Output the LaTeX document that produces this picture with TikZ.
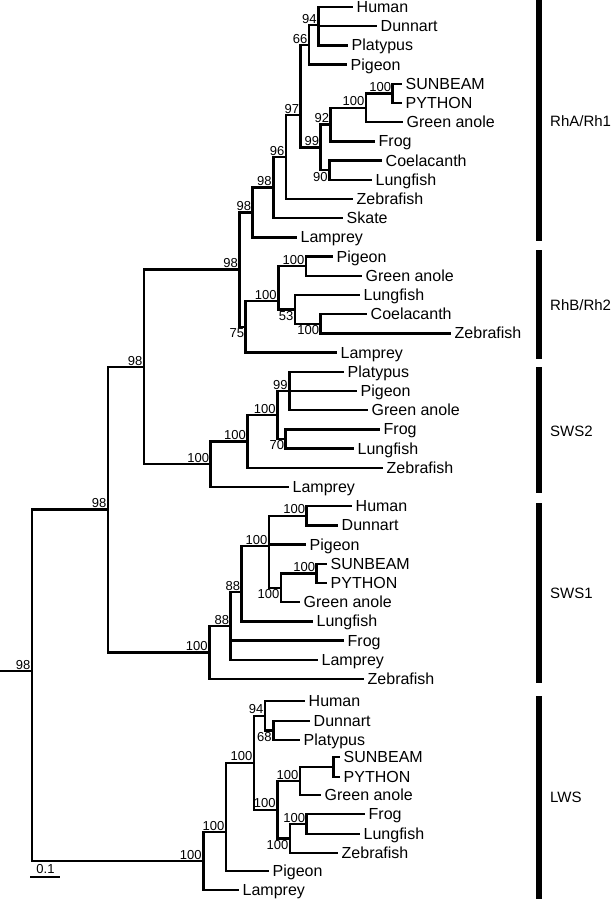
\documentclass[tikz,border=0pt]{standalone}
\usepackage{fontspec}
\setmainfont{Liberation Sans}
\begin{document}
\begin{tikzpicture}[x=1pt,y=-1pt,
  br/.style={line width=2.5pt, line join=miter, line cap=butt},
  tip/.style={anchor=west, font=\fontsize{16}{16}\selectfont, inner xsep=3.5pt, inner ysep=0pt, text height=11pt, text depth=0pt},
  bs/.style={font=\fontsize{13}{13}\selectfont, inner xsep=1.5pt, inner ysep=1.7pt, text height=9pt, text depth=0pt},
  bsa/.style={bs, anchor=south east},
  bsb/.style={bs, anchor=north east},
  clade/.style={anchor=west, font=\fontsize{15}{15}\selectfont, inner sep=0pt},
  cbar/.style={fill=black, draw=none}]
\useasboundingbox (0,0) rectangle (615,899);

% ---------- tips ----------
% RhA/Rh1
\node[tip] (a0) at (353,7) {Human};
\node[tip] (a1) at (377,26.2) {Dunnart};
\node[tip] (a2) at (348,45.4) {Platypus};
\node[tip] (a3) at (347,64.6) {Pigeon};
\node[tip] (a4) at (402,83.8) {SUNBEAM};
\node[tip] (a5) at (402,103) {PYTHON};
\node[tip] (a6) at (403,122.2) {Green anole};
\node[tip] (a7) at (375,141.4) {Frog};
\node[tip] (a8) at (382,160.6) {Coelacanth};
\node[tip] (a9) at (372,179.8) {Lungfish};
\node[tip] (a10) at (353,199) {Zebrafish};
\node[tip] (a11) at (343,218.2) {Skate};
\node[tip] (a12) at (297,237.4) {Lamprey};
% RhB/Rh2
\node[tip] (b0) at (333,256.6) {Pigeon};
\node[tip] (b1) at (362,275.8) {Green anole};
\node[tip] (b2) at (360,295) {Lungfish};
\node[tip] (b3) at (367,314.2) {Coelacanth};
\node[tip] (b4) at (451,333.4) {Zebrafish};
\node[tip] (b5) at (337,352.6) {Lamprey};
% SWS2
\node[tip] (c0) at (344,371.8) {Platypus};
\node[tip] (c1) at (357,391) {Pigeon};
\node[tip] (c2) at (368,410.2) {Green anole};
\node[tip] (c3) at (380,429.4) {Frog};
\node[tip] (c4) at (354,448.6) {Lungfish};
\node[tip] (c5) at (383,467.8) {Zebrafish};
\node[tip] (c6) at (289,487) {Lamprey};
% SWS1
\node[tip] (d0) at (352,506.2) {Human};
\node[tip] (d1) at (338,525.4) {Dunnart};
\node[tip] (d2) at (306,544.6) {Pigeon};
\node[tip] (d3) at (327,563.8) {SUNBEAM};
\node[tip] (d4) at (327,583) {PYTHON};
\node[tip] (d5) at (300,602.2) {Green anole};
\node[tip] (d6) at (313,621.4) {Lungfish};
\node[tip] (d7) at (344,640.6) {Frog};
\node[tip] (d8) at (318,659.8) {Lamprey};
\node[tip] (d9) at (364,679) {Zebrafish};
% LWS
\node[tip] (e0) at (305,701) {Human};
\node[tip] (e1) at (310,721) {Dunnart};
\node[tip] (e2) at (300,740) {Platypus};
\node[tip] (e3) at (340,757) {SUNBEAM};
\node[tip] (e4) at (340,777) {PYTHON};
\node[tip] (e5) at (321,795) {Green anole};
\node[tip] (e6) at (365,814) {Frog};
\node[tip] (e7) at (360,834) {Lungfish};
\node[tip] (e8) at (338,853) {Zebrafish};
\node[tip] (e9) at (269,871) {Pigeon};
\node[tip] (e10) at (239,890) {Lamprey};

% ---------- internal nodes ----------
\coordinate (n94a) at (318.3,25);
\coordinate (n66a) at (309,45);
\coordinate (n100b) at (392.7,93.4);
\coordinate (n100a) at (366,107.8);
\coordinate (n92) at (330.7,124.6);
\coordinate (n90) at (329.3,170.2);
\coordinate (n99a) at (320.7,147.4);
\coordinate (n97) at (300.7,115);
\coordinate (n96) at (286,157);
\coordinate (n98a) at (273.3,187.6);
\coordinate (n98b) at (252.7,212.5);
\coordinate (n100d) at (306,266.2);
\coordinate (n100e) at (320.7,323.8);
\coordinate (n53) at (295,309.4);
\coordinate (n100c) at (278.3,301);
\coordinate (n75) at (245.7,326.8);
\coordinate (n98c) at (239.5,269.6);
\coordinate (n99s) at (289.3,391);
\coordinate (n70) at (285.7,439);
\coordinate (n100f) at (277.3,415);
\coordinate (n100g) at (247.5,441.4);
\coordinate (n100h) at (210.7,464.2);
\coordinate (nB) at (144,366.9);
\coordinate (n100hd) at (306.7,515.8);
\coordinate (n100sp) at (316.7,573.4);
\coordinate (n100low) at (281,588);
\coordinate (n100u) at (269,546);
\coordinate (n88a) at (241.7,592);
\coordinate (n88b) at (230.7,626);
\coordinate (n100s) at (209.3,652.5);
\coordinate (nA) at (108,509.7);
\coordinate (nLsp) at (333.3,767);
\coordinate (nLrep) at (300,781);
\coordinate (nLfl) at (306.7,824);
\coordinate (nLfish) at (290,838.5);
\coordinate (nLr) at (277.3,809.75);
\coordinate (nL68) at (273.3,730.5);
\coordinate (nL94) at (265,715.75);
\coordinate (nL3) at (254,762.75);
\coordinate (nL2) at (226,832);
\coordinate (nL1) at (203.3,861);
\coordinate (root) at (32,671);
\coordinate (stub) at (0,671);

% ---------- branches ----------
\draw[br] (n94a) |- (a0.west);
\draw[br] (n94a) |- (a1.west);
\draw[br] (n94a) |- (a2.west);
\draw[br] (n66a) |- (n94a);
\draw[br] (n66a) |- (a3.west);
\draw[br] (n100b) |- (a4.west);
\draw[br] (n100b) |- (a5.west);
\draw[br] (n100a) |- (n100b);
\draw[br] (n100a) |- (a6.west);
\draw[br] (n92) |- (n100a);
\draw[br] (n92) |- (a7.west);
\draw[br] (n90) |- (a8.west);
\draw[br] (n90) |- (a9.west);
\draw[br] (n99a) |- (n92);
\draw[br] (n99a) |- (n90);
\draw[br] (n97) |- (n66a);
\draw[br] (n97) |- (n99a);
\draw[br] (n96) |- (n97);
\draw[br] (n96) |- (a10.west);
\draw[br] (n98a) |- (n96);
\draw[br] (n98a) |- (a11.west);
\draw[br] (n98b) |- (n98a);
\draw[br] (n98b) |- (a12.west);

\draw[br] (n100d) |- (b0.west);
\draw[br] (n100d) |- (b1.west);
\draw[br] (n100e) |- (b3.west);
\draw[br] (n100e) |- (b4.west);
\draw[br] (n53) |- (b2.west);
\draw[br] (n53) |- (n100e);
\draw[br] (n100c) |- (n100d);
\draw[br] (n100c) |- (n53);
\draw[br] (n75) |- (n100c);
\draw[br] (n75) |- (b5.west);
\draw[br] (n98c) |- (n98b);
\draw[br] (n98c) |- (n75);

\draw[br] (n99s) |- (c0.west);
\draw[br] (n99s) |- (c1.west);
\draw[br] (n99s) |- (c2.west);
\draw[br] (n70) |- (c3.west);
\draw[br] (n70) |- (c4.west);
\draw[br] (n100f) |- (n99s);
\draw[br] (n100f) |- (n70);
\draw[br] (n100g) |- (n100f);
\draw[br] (n100g) |- (c5.west);
\draw[br] (n100h) |- (n100g);
\draw[br] (n100h) |- (c6.west);
\draw[br] (nB) |- (n98c);
\draw[br] (nB) |- (n100h);

\draw[br] (n100hd) |- (d0.west);
\draw[br] (n100hd) |- (d1.west);
\draw[br] (n100sp) |- (d3.west);
\draw[br] (n100sp) |- (d4.west);
\draw[br] (n100low) |- (n100sp);
\draw[br] (n100low) |- (d5.west);
\draw[br] (n100u) |- (n100hd);
\draw[br] (n100u) |- (d2.west);
\draw[br] (n100u) |- (n100low);
\draw[br] (n88a) |- (n100u);
\draw[br] (n88a) |- (d6.west);
\draw[br] (n88b) |- (n88a);
\draw[br] (n88b) |- (d7.west);
\draw[br] (n88b) |- (d8.west);
\draw[br] (n100s) |- (n88b);
\draw[br] (n100s) |- (d9.west);
\draw[br] (nA) |- (nB);
\draw[br] (nA) |- (n100s);

\draw[br] (nLsp) |- (e3.west);
\draw[br] (nLsp) |- (e4.west);
\draw[br] (nLrep) |- (nLsp);
\draw[br] (nLrep) |- (e5.west);
\draw[br] (nLfl) |- (e6.west);
\draw[br] (nLfl) |- (e7.west);
\draw[br] (nLfish) |- (nLfl);
\draw[br] (nLfish) |- (e8.west);
\draw[br] (nLr) |- (nLrep);
\draw[br] (nLr) |- (nLfish);
\draw[br] (nL68) |- (e1.west);
\draw[br] (nL68) |- (e2.west);
\draw[br] (nL94) |- (e0.west);
\draw[br] (nL94) |- (nL68);
\draw[br] (nL3) |- (nL94);
\draw[br] (nL3) |- (nLr);
\draw[br] (nL2) |- (nL3);
\draw[br] (nL2) |- (e9.west);
\draw[br] (nL1) |- (nL2);
\draw[br] (nL1) |- (e10.west);
\draw[br] (root) |- (nA);
\draw[br] (root) |- (nL1);
\draw[br] (stub) -- (root);

% ---------- bootstrap values ----------
\node[bsa] (s1) at (n94a) {94};
\node[bsa] (s2) at (n66a) {66};
\node[bsa] (s3) at (n100b) {100};
\node[bsa] (s4) at (n100a) {100};
\node[bsa] (s5) at (n92) {92};
\node[bsb] (s6) at (n90) {90};
\node[bsa] (s7) at (n99a) {99};
\node[bsa] (s8) at (n97) {97};
\node[bsa] (s9) at (n96) {96};
\node[bsa] (s10) at (n98a) {98};
\node[bsa] (s11) at (n98b) {98};
\node[bsa] (s12) at (n100d) {100};
\node[bsb] (s13) at (n100e) {100};
\node[bsb] (s14) at (n53) {53};
\node[bsa] (s15) at (n100c) {100};
\node[bsb] (s16) at (n75) {75};
\node[bsa] (s17) at (n98c) {98};
\node[bsa] (s18) at (n99s) {99};
\node[bsb] (s19) at (n70) {70};
\node[bsa] (s20) at (n100f) {100};
\node[bsa] (s21) at (n100g) {100};
\node[bsa] (s22) at (n100h) {100};
\node[bsa] (s23) at (nB) {98};
\node[bsa] (s24) at (n100hd) {100};
\node[bsa] (s25) at (n100sp) {100};
\node[bsb] (s26) at (n100low) {100};
\node[bsa] (s27) at (n100u) {100};
\node[bsa] (s28) at (n88a) {88};
\node[bsa] (s29) at (n88b) {88};
\node[bsa] (s30) at (n100s) {100};
\node[bsa] (s31) at (nA) {98};
\node[bsa] (s32) at (nLrep) {100};
\node[bsa] (s33) at (nLfl) {100};
\node[bsb] (s34) at (nLfish) {100};
\node[bsa] (s35) at (nLr) {100};
\node[bsb] (s36) at (nL68) {68};
\node[bsa] (s37) at (nL94) {94};
\node[bsa] (s38) at (nL3) {100};
\node[bsa] (s39) at (nL2) {100};
\node[bsa] (s40) at (nL1) {100};
\node[bsa] (s41) at (root) {98};

% ---------- scale bar ----------
\coordinate (sb1) at (30,877.3);
\coordinate (sb2) at (60,877.3);
\draw[line width=2.2pt] (sb1) -- (sb2);
\node[bs, anchor=south] (sbl) at (45.5,875) {0.1};

% ---------- clade bars ----------
\fill[cbar] (536,0) rectangle (542,241);
\fill[cbar] (536,250) rectangle (542,359);
\fill[cbar] (536,367) rectangle (542,493);
\fill[cbar] (536,503) rectangle (542,683);
\fill[cbar] (536,696) rectangle (542,899);
\node[clade] (k1) at (550,121) {RhA/Rh1};
\node[clade] (k2) at (550,305) {RhB/Rh2};
\node[clade] (k3) at (550,431) {SWS2};
\node[clade] (k4) at (550,593) {SWS1};
\node[clade] (k5) at (550,797) {LWS};
\end{tikzpicture}
\end{document}
